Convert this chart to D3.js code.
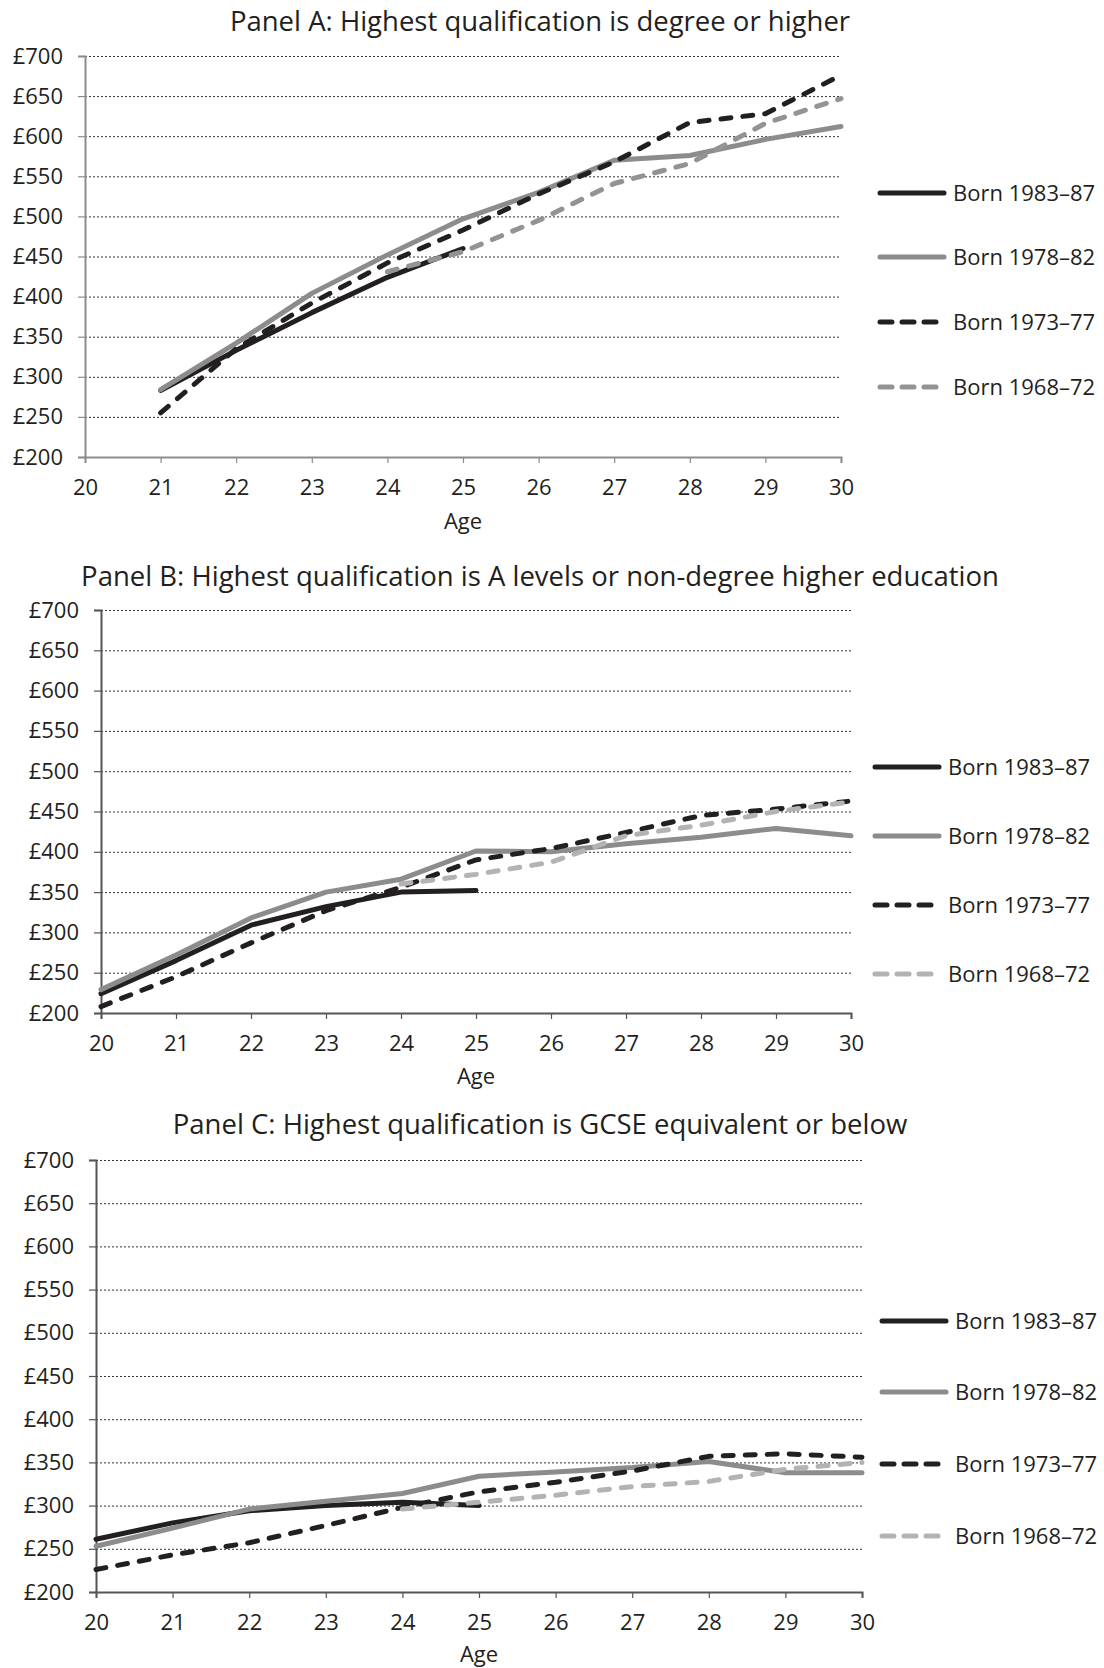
<!DOCTYPE html>
<html>
<head>
<meta charset="utf-8">
<script src="https://cdn.jsdelivr.net/npm/d3@7"></script>
<style>
  html, body { margin: 0; padding: 0; background: #fff; }
  svg { display: block; font-family: "Open Sans", sans-serif; }
</style>
</head>
<body>
<svg id="chart" width="1104" height="1668"></svg>
<script>
// Ages on the horizontal axis
const ages = [20, 21, 22, 23, 24, 25, 26, 27, 28, 29, 30];
const yTicks = [200, 250, 300, 350, 400, 450, 500, 550, 600, 650, 700];
const cohorts = ["Born 1983–87", "Born 1978–82", "Born 1973–77", "Born 1968–72"];
const panelTitles = [
  "Panel A: Highest qualification is degree or higher",
  "Panel B: Highest qualification is A levels or non-degree higher education",
  "Panel C: Highest qualification is GCSE equivalent or below"
];

// Median weekly earnings (£) by age, one array per cohort; null = not observed
const degree1983 = [null, 283, 333, 380, 424, 460, null, null, null, null, null];
const degree1978 = [null, 284, 342, 404, 452, 497, 530, 570, 576, 596, 612];
const degree1973 = [null, 255, 335, 392, 442, 483, 528, 568, 617, 628, 676];
const degree1968 = [null, null, null, null, 431, 456, 495, 541, 566, 616, 647];

const alevel1983 = [224, 265, 309, 332, 350, 352, null, null, null, null, null];
const alevel1978 = [229, 272, 318, 350, 366, 401, 400, 410, 418, 429, 420];
const alevel1973 = [208, 245, 287, 327, 356, 390, 404, 424, 445, 453, 463];
const alevel1968 = [null, null, null, null, 360, 372, 387, 420, 433, 450, 462];

const gcse1983 = [261, 280, 294, 300, 304, 300, null, null, null, null, null];
const gcse1978 = [253, 274, 296, 305, 314, 334, 339, 344, 351, 338, 338];
const gcse1973 = [226, 243, 257, 277, 298, 316, 327, 340, 357, 360, 356];
const gcse1968 = [null, null, null, null, 296, 304, 312, 322, 328, 342, 350];

const panelSeries = [
  [degree1983, degree1978, degree1973, degree1968],
  [alevel1983, alevel1978, alevel1973, alevel1968],
  [gcse1983, gcse1978, gcse1973, gcse1968]
];

// Layout of each panel (pixels)
const layouts = [
  { left: 85,  right: 841, top: 56,   bottom: 457,  titleY: 31,   ageY: 529,  axisColor: "#8c8c8c",
    legX: 877, legY: [193, 257, 322, 387], light: "#939393" },
  { left: 101, right: 851, top: 610,  bottom: 1013, titleY: 586,  ageY: 1084, axisColor: "#555",
    legX: 872, legY: [767, 836, 905, 974], light: "#b3b3b3" },
  { left: 96,  right: 862, top: 1160, bottom: 1592, titleY: 1134, ageY: 1662, axisColor: "#555",
    legX: 879, legY: [1321, 1392, 1464, 1536], light: "#b3b3b3" }
];

const ink = "#231f20";
const midGray = "#8c8c8c";
const fontSize = 22;

const svg = d3.select("#chart");

layouts.forEach((L, p) => {
  const g = svg.append("g");
  const x = d3.scaleLinear().domain([20, 30]).range([L.left, L.right]);
  const y = d3.scaleLinear().domain([200, 700]).range([L.bottom, L.top]);

  const styles = [
    { color: ink,     dash: null },
    { color: midGray, dash: null },
    { color: ink,     dash: "10 12" },
    { color: L.light, dash: "10 12" }
  ];

  // Title
  g.append("text")
    .attr("x", 540).attr("y", L.titleY)
    .attr("text-anchor", "middle")
    .attr("font-size", 27.5)
    .attr("fill", ink)
    .text(panelTitles[p]);

  // Dotted horizontal gridlines
  g.append("g").selectAll("line")
    .data(yTicks.filter(v => v > 200))
    .join("line")
    .attr("x1", L.left).attr("x2", L.right)
    .attr("y1", d => y(d) + 0.5).attr("y2", d => y(d) + 0.5)
    .attr("stroke", "#333")
    .attr("stroke-width", 1)
    .attr("stroke-dasharray", "2 2");

  // Y axis
  const yAxis = g.append("g")
    .attr("transform", `translate(${L.left},0)`)
    .call(d3.axisLeft(y).tickValues(yTicks).tickSize(7).tickPadding(15)
      .tickFormat(d => "£" + d));
  yAxis.select(".domain").attr("stroke", L.axisColor).attr("stroke-width", 2);
  yAxis.selectAll(".tick line").attr("stroke", L.axisColor).attr("stroke-width", 1.2);
  yAxis.selectAll("text").attr("font-size", fontSize).attr("fill", ink)
    .attr("font-family", "'Open Sans', sans-serif");

  // X axis
  const xAxis = g.append("g")
    .attr("transform", `translate(0,${L.bottom})`)
    .call(d3.axisBottom(x).tickValues(ages).tickSize(6).tickPadding(16)
      .tickFormat(d3.format("d")));
  xAxis.select(".domain").attr("stroke", L.axisColor).attr("stroke-width", 2);
  xAxis.selectAll(".tick line").attr("stroke", L.axisColor).attr("stroke-width", 1.2);
  xAxis.selectAll("text").attr("font-size", fontSize).attr("fill", ink)
    .attr("font-family", "'Open Sans', sans-serif");

  // Axis title
  g.append("text")
    .attr("x", (L.left + L.right) / 2).attr("y", L.ageY)
    .attr("text-anchor", "middle")
    .attr("font-size", fontSize)
    .attr("fill", ink)
    .text("Age");

  // Cohort lines
  const line = d3.line()
    .defined(d => d.v != null)
    .x(d => x(d.a))
    .y(d => y(d.v));

  panelSeries[p].forEach((vals, i) => {
    const pts = ages.map((a, k) => ({ a, v: vals[k] }));
    g.append("path")
      .datum(pts)
      .attr("d", line)
      .attr("fill", "none")
      .attr("stroke", styles[i].color)
      .attr("stroke-width", 5)
      .attr("stroke-linecap", "round")
      .attr("stroke-linejoin", "round")
      .attr("stroke-dasharray", styles[i].dash);
  });

  // Legend
  cohorts.forEach((name, i) => {
    const ly = L.legY[i];
    g.append("line")
      .attr("x1", L.legX + 3).attr("x2", L.legX + 67)
      .attr("y1", ly).attr("y2", ly)
      .attr("stroke", styles[i].color)
      .attr("stroke-width", 5)
      .attr("stroke-linecap", "round")
      .attr("stroke-dasharray", styles[i].dash ? "12 10" : null);
    g.append("text")
      .attr("x", L.legX + 76).attr("y", ly + 8)
      .attr("font-size", fontSize)
      .attr("fill", ink)
      .text(name);
  });
});
</script>
</body>
</html>
